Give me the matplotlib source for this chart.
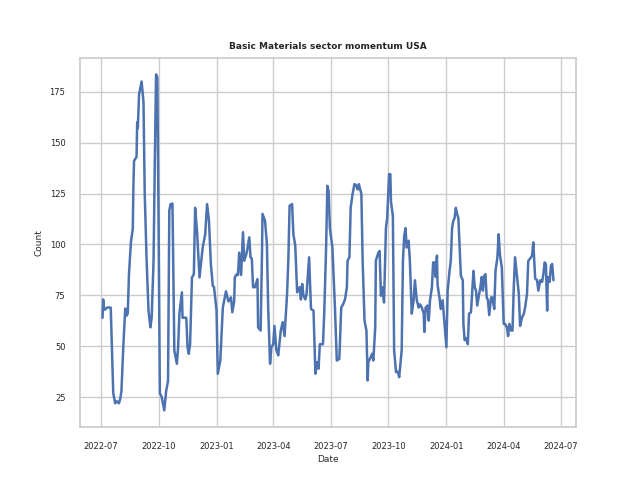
import numpy as np
import pandas as pd
import matplotlib
matplotlib.use("Agg")
import matplotlib.pyplot as plt
import matplotlib.dates as mdates
import seaborn as sns

# Days since 2022-07-01 for each reading, and the momentum count on that day
start_date = "2022-07-01"
day_offsets = [
    3, 4, 5, 7, 10, 15, 16, 20, 23, 26, 29, 31, 33, 36, 39, 41, 43, 45, 48, 51,
    52, 53, 57, 58, 59, 61, 65, 68, 70, 73, 76, 79, 81, 84, 86, 88, 90, 92, 94, 97,
    101, 104, 107, 109, 111, 114, 117, 121, 123, 125, 129, 130, 136, 138, 140, 142, 145, 148, 150, 153,
    157, 162, 166, 169, 172, 175, 178, 180, 184, 186, 190, 194, 199, 203, 207, 209, 212, 213, 216, 218,
    220, 223, 226, 228, 232, 236, 238, 240, 242, 245, 249, 250, 254, 256, 257, 261, 264, 266, 269, 271,
    274, 276, 279, 282, 286, 289, 292, 296, 298, 300, 304, 306, 309, 312, 316, 318, 320, 322, 325, 327,
    331, 334, 338, 341, 344, 346, 348, 353, 355, 358, 360, 362, 364, 368, 372, 375, 379, 382, 385, 388,
    391, 392, 395, 397, 400, 403, 406, 408, 410, 414, 416, 419, 422, 424, 425, 429, 431, 433, 436, 437,
    441, 443, 445, 447, 450, 453, 455, 458, 460, 461, 464, 466, 469, 472, 474, 478, 480, 482, 484, 486,
    489, 491, 494, 497, 499, 502, 505, 507, 510, 513, 514, 516, 519, 521, 523, 526, 528, 530, 532, 534,
    535, 538, 540, 543, 546, 549, 551, 554, 556, 558, 560, 562, 564, 566, 568, 570, 572, 575, 576, 578,
    580, 583, 585, 588, 590, 592, 594, 596, 598, 601, 603, 605, 607, 609, 611, 613, 615, 617, 620, 622,
    625, 627, 630, 632, 634, 637, 640, 642, 645, 647, 649, 652, 654, 656, 658, 661, 664, 666, 669, 672,
    674, 677, 679, 682, 685, 687, 690, 693, 695, 698, 701, 703, 705, 707, 709, 710, 713, 715, 717, 719,
]
counts = [
    64, 73, 68, 68, 69, 69, 69, 27, 22, 23, 22, 24, 28, 50, 68.5, 65, 66, 85.6, 101, 107.7,
    128, 141, 143, 160, 157, 173.7, 180, 170, 124.7, 92, 67.5, 59.3, 64, 92, 141, 183.5, 182, 109, 27, 25,
    18.5, 28, 33, 116.5, 119.8, 120, 47.9, 41.4, 49.5, 65.9, 76.5, 64, 64, 49.5, 46.3, 51, 83.8, 85.4, 118, 106.6,
    83.8, 98.5, 105, 119.8, 111.6, 90.4, 79.8, 79, 67.5, 36.5, 43, 69, 77, 72, 74, 66.7, 72, 83.8, 85.4, 85,
    96, 85, 106, 92, 96, 103.5, 93.7, 93, 79, 79, 83, 59.3, 57.7, 92, 115, 111.6, 100, 69, 41.4, 49.5,
    51, 60, 48, 45.5, 57.7, 61.8, 55, 75.7, 92, 119, 119.8, 105, 99.5, 76.5, 79, 73, 80.6, 75, 73, 75.7,
    93.7, 68.3, 67.5, 36.5, 42.2, 39, 51, 51, 66, 98.5, 128.8, 126, 108, 98.5, 69, 43, 43.8, 69, 70.6, 73,
    79, 92, 93.7, 118, 124.7, 129.6, 129, 127, 129.6, 124.7, 92, 62.6, 57.7, 33.2, 42.2, 44.8, 46.3, 43, 59.3, 92,
    96, 96.8, 74.8, 79, 71.5, 108, 113, 134.5, 134.5, 121, 114, 48, 37.3, 37.5, 34.8, 48, 92, 104, 108, 98.5,
    101.8, 92, 66, 72.6, 82.4, 72.6, 69, 70.6, 69, 66, 57, 69, 70, 62.6, 72.6, 79, 91.2, 91.2, 84, 94.5,
    80, 74, 68.3, 72.6, 61, 49.5, 77.3, 87, 92, 108, 111.6, 113, 118, 115, 113, 98.5, 84.6, 82.4, 61, 53,
    54, 51, 66, 66.7, 77.3, 87, 79, 77.3, 70, 75.7, 79, 84, 77.3, 84.6, 85.4, 74, 72.6, 65.3, 74, 74,
    68.3, 87, 93.7, 105, 95, 88.6, 61, 61, 59.3, 55, 61, 57.7, 57.7, 79, 93.7, 84.6, 75.7, 60, 64, 66,
    69, 75.7, 92, 93, 94.5, 101, 83.2, 82.4, 77.3, 82.4, 81.6, 85.4, 91.2, 90.4, 67.5, 84, 81.6, 89.6, 90.4, 82.4,
]

dates = pd.Timestamp(start_date) + pd.to_timedelta(day_offsets, unit="D")
df = pd.DataFrame({"Date": dates, "Count": counts})

sns.set_theme(style="whitegrid")

fig, ax = plt.subplots(figsize=(6.4, 4.8), dpi=100)
sns.lineplot(data=df, x="Date", y="Count", ax=ax, color="#4c72b0", linewidth=1.8)

ax.set_title("Basic Materials sector momentum USA", fontsize=6.5, fontweight="bold")
ax.set_xlabel("Date", fontsize=6.5, labelpad=3)
ax.set_ylabel("Count", fontsize=6.5, labelpad=4)
ax.tick_params(axis="both", labelsize=6, pad=4.5)
ax.xaxis.set_major_locator(mdates.MonthLocator(bymonth=[1, 4, 7, 10]))
ax.xaxis.set_major_formatter(mdates.DateFormatter("%Y-%m"))
ax.set_yticks([25, 50, 75, 100, 125, 150, 175])

fig.savefig("out.png", dpi=100)
